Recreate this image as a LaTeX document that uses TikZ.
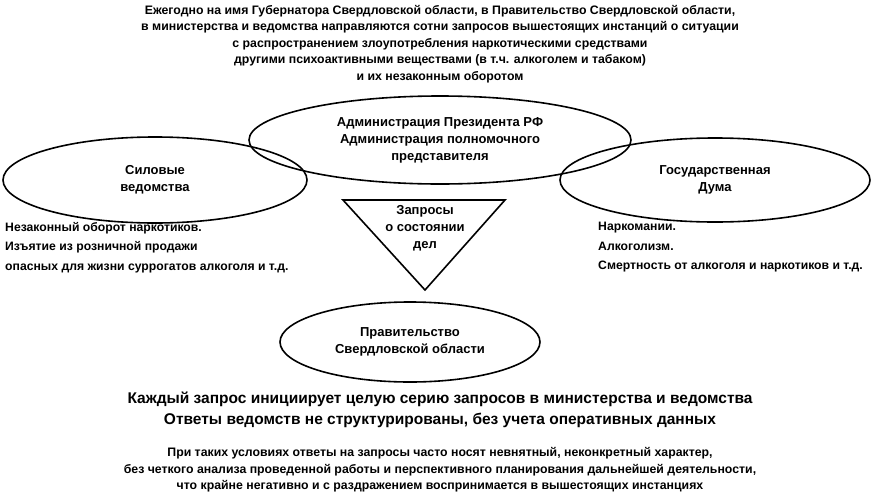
\documentclass[tikz,border=0pt]{standalone}
\usepackage{fontspec}
\setmainfont{Liberation Sans}
\usetikzlibrary{shapes.geometric}
\tikzset{
  oval/.style={draw, ellipse, line width=1.6pt, align=center, inner sep=0pt,
               font=\fontsize{13}{17}\selectfont\bfseries},
  note/.style={align=center, inner sep=0pt, font=\fontsize{12.3}{16.5}\selectfont\bfseries},
  side/.style={align=left, anchor=north west, inner sep=0pt, font=\fontsize{12.2}{19.5}\selectfont\bfseries},
  big/.style={align=center, inner sep=0pt, font=\fontsize{15.5}{21}\selectfont\bfseries}
}
\begin{document}
\begin{tikzpicture}[x=1pt,y=-1pt]
   \useasboundingbox (0,0) rectangle (875,498);

   % Header
      \node[note] (head) at (440,44) {Ежегодно на имя Губернатора Свердловской области, в Правительство Свердловской области,\\
        в министерства и ведомства направляются сотни запросов вышестоящих инстанций о ситуации\\
        с распространением злоупотребления наркотическими средствами\\
        другими психоактивными веществами (в т.ч. алкоголем и табаком)\\
        и их незаконным оборотом};

   % Ovals
      \node[oval, minimum width=382, minimum height=88] (admin) at (440,140)
        {Администрация Президента РФ\\Администрация полномочного\\представителя};
      \node[oval, minimum width=304, minimum height=86] (force) at (155,180)
        {Силовые\\ведомства};
      \node[oval, minimum width=310, minimum height=84] (duma) at (715,180)
        {Государственная\\Дума};
      \node[oval, minimum width=260, minimum height=80] (gov) at (410,342)
        {Правительство\\Свердловской области};

   % Triangle
      \coordinate (t1) at (343,200);
      \coordinate (t2) at (505,200);
      \coordinate (t3) at (425,290);
      \draw[line width=1.6pt, line join=miter] (t1) -- (t2) -- (t3) -- cycle;
      \node[note, font=\fontsize{13}{17}\selectfont\bfseries] (req) at (425,228) {Запросы\\о состоянии\\дел};

   % Side notes
      \node[side] (forcetxt) at (5,222) {Незаконный оборот наркотиков.\\
        Изъятие из розничной продажи\\опасных для жизни суррогатов алкоголя и т.д.};
      \node[side] (dumatxt) at (598,222) {Наркомании.\\Алкоголизм.\\
        Смертность от алкоголя и наркотиков и т.д.};

   % Footer
      \node[big] (each) at (440,410) {Каждый запрос инициирует целую серию запросов в министерства и ведомства\\
        Ответы ведомств не структурированы, без учета оперативных данных};
      \node[note] (cond) at (440,470) {При таких условиях ответы на запросы часто носят невнятный, неконкретный характер,\\
        без четкого анализа проведенной работы и перспективного планирования дальнейшей деятельности,\\
        что крайне негативно и с раздражением воспринимается в вышестоящих инстанциях};
\end{tikzpicture}
\end{document}
